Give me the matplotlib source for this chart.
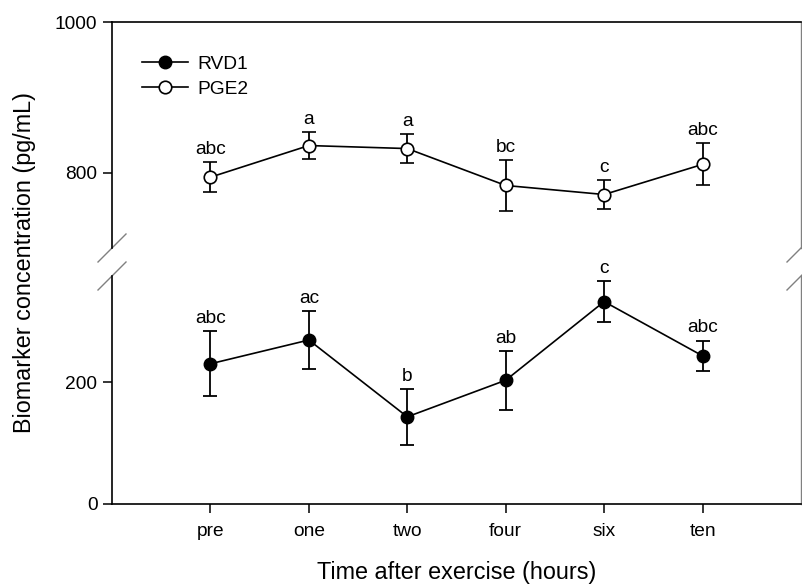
#grafico con asse y spezzato: RVD1 sotto, PGE2 sopra, con barre di errore e lettere di significatività
import matplotlib.pyplot as plt
from matplotlib.lines import Line2D

plt.rcParams['font.family'] = ['Liberation Sans', 'DejaVu Sans']

#dati
tempi = ['pre', 'one', 'two', 'four', 'six', 'ten']
pos = [1, 2, 3, 4, 5, 6]

rvd1 = [230, 269, 143, 203, 332, 243]
rvd1_err = [53, 47, 46, 48, 34, 25]
rvd1_lettere = ['abc', 'ac', 'b', 'ab', 'c', 'abc']

pge2 = [794, 836, 832, 783, 771, 811]
pge2_err = [20, 18, 19, 34, 19, 28]
pge2_lettere = ['abc', 'a', 'a', 'bc', 'c', 'abc']

fs = 13.8   #dimensione testo tick/lettere

fig = plt.figure(figsize=(8.02, 5.86), dpi=100)
sx = 112/802
dx = 801/802 - sx
ax_top = fig.add_axes([sx, 1-248/586, dx, (248-22)/586])
ax_bot = fig.add_axes([sx, 1-504/586, dx, (504-276)/586])

for ax in (ax_top, ax_bot):
    for s in ax.spines.values():
        s.set_linewidth(1.2)
    ax.spines['right'].set_color('gray')
    ax.spines['right'].set_linewidth(1.0)
    ax.set_xlim(0, 7)
    ax.tick_params(direction='out', length=6.5, width=1.1, labelsize=fs, pad=4)

ax_top.spines['bottom'].set_visible(False)
ax_bot.spines['top'].set_visible(False)

#parte alta: PGE2 (cerchi vuoti)
ax_top.errorbar(pos, pge2, yerr=pge2_err, color='black', marker='o', markersize=9,
                markerfacecolor='white', markeredgecolor='black', markeredgewidth=1.2,
                linewidth=1.2, elinewidth=1.3, capsize=5, capthick=1.3, zorder=3)
ax_top.set_ylim(700, 1000)
ax_top.set_yticks([800, 1000])
ax_top.set_xticks([])

#parte bassa: RVD1 (cerchi pieni)
ax_bot.errorbar(pos, rvd1, yerr=rvd1_err, color='black', marker='o', markersize=9,
                markerfacecolor='black', linewidth=1.2, elinewidth=1.3, capsize=5,
                capthick=1.3, zorder=3)
ax_bot.set_ylim(0, 374)
ax_bot.set_yticks([0, 200])
ax_bot.set_xticks(pos)
ax_bot.set_xticklabels(tempi)
ax_bot.tick_params(axis='x', pad=7)

#lettere sopra le barre di errore
for x, v, e, l in zip(pos, pge2, pge2_err, pge2_lettere):
    ax_top.annotate(l, (x, v+e), xytext=(0, 3), textcoords='offset points',
                    ha='center', va='bottom', fontsize=fs)
for x, v, e, l in zip(pos, rvd1, rvd1_err, rvd1_lettere):
    ax_bot.annotate(l, (x, v+e), xytext=(0, 3), textcoords='offset points',
                    ha='center', va='bottom', fontsize=fs)

#legenda
maniglie = [Line2D([], [], color='black', lw=1.2, marker='o', markersize=9, markerfacecolor='black'),
            Line2D([], [], color='black', lw=1.2, marker='o', markersize=9, markerfacecolor='white',
                   markeredgewidth=1.2)]
ax_top.legend(maniglie, ['RVD1', 'PGE2'], loc='upper left', bbox_to_anchor=(22/689, 0.885),
              frameon=False, fontsize=fs, handlelength=2.4, handletextpad=0.5,
              labelspacing=0.4, borderaxespad=0)

#segni di interruzione dell'asse
kw = dict(color='gray', linewidth=1.0, clip_on=False)
w = 14/689
h_top = 14/226
h_bot = 14/228
for xx in (0, 1):
    ax_top.plot([xx-w, xx+w], [-h_top, h_top], transform=ax_top.transAxes, **kw)
    ax_bot.plot([xx-w, xx+w], [1-h_bot, 1+h_bot], transform=ax_bot.transAxes, **kw)

fig.text(0.031, (1-504/586 + 1-22/586)/2, 'Biomarker concentration (pg/mL)', rotation=90,
         ha='center', va='center', fontsize=16.8)
fig.text((sx + 801/802)/2, 1-572/586, 'Time after exercise (hours)', ha='center',
         va='center', fontsize=16.8)

plt.savefig('out.png', dpi=100)
